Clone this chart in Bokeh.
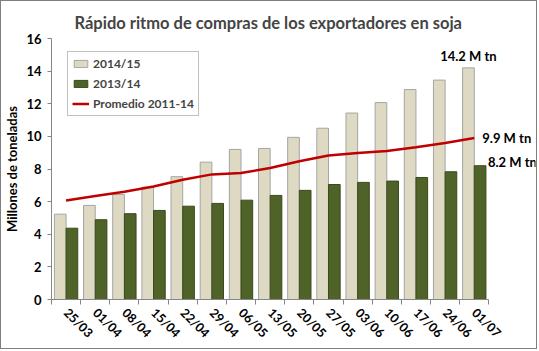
from bokeh.plotting import figure
from bokeh.models import Range1d, FixedTicker, ColumnDataSource, Legend, LegendItem
from bokeh.embed import file_html
from bokeh.resources import INLINE

fechas = ["25/03", "01/04", "08/04", "15/04", "22/04", "29/04", "06/05", "13/05",
          "20/05", "27/05", "03/06", "10/06", "17/06", "24/06", "01/07"]
campana_2014_15 = [5.23, 5.77, 6.44, 6.89, 7.53, 8.42, 9.2, 9.26, 9.94, 10.5,
                   11.43, 12.07, 12.87, 13.45, 14.2]
campana_2013_14 = [4.37, 4.89, 5.26, 5.46, 5.72, 5.89, 6.09, 6.38, 6.69, 7.05,
                   7.18, 7.26, 7.48, 7.83, 8.2]
promedio_2011_14 = [6.07, 6.34, 6.6, 6.93, 7.34, 7.67, 7.75, 8.06, 8.47, 8.83,
                    8.98, 9.1, 9.34, 9.6, 9.9]
y_ticks = [0, 2, 4, 6, 8, 10, 12, 14, 16]

FONT = "Lato"
n = len(fechas)
idx = list(range(n))
src = ColumnDataSource(dict(
    x=idx,
    x1=[i - 0.2 for i in idx],
    x2=[i + 0.2 for i in idx],
    a=campana_2014_15,
    b=campana_2013_14,
    c=promedio_2011_14,
))

W, H = 537, 349
p = figure(width=W, height=H, output_backend="svg", toolbar_location=None,
           x_range=Range1d(-0.5, 16.1), y_range=Range1d(0, 16),
           min_border_left=43, min_border_right=3, min_border_top=37,
           min_border_bottom=51)
p.styles = {"border": "1px solid #7f7f7f"}
p.outline_line_color = None
p.grid.visible = False

p.title.text = "Rápido ritmo de compras de los exportadores en soja"
p.title.text_font = FONT
p.title.text_font_size = "16.5px"
p.title.text_font_style = "bold"
p.title.align = "left"
p.title.offset = 23
p.title.standoff = 11

r1 = p.vbar(x="x1", top="a", width=0.4, source=src, fill_color="#DDD9C3",
            line_color="#A5A5A5", line_width=1)
r2 = p.vbar(x="x2", top="b", width=0.4, source=src, fill_color="#4F6228",
            line_color="#3B4A1E", line_width=1)
r3 = p.line(x="x", y="c", source=src, line_color="#C00000", line_width=2.5)

# annotations
p.text(x=[idx[-1] - 0.2], y=[campana_2014_15[-1]],
       text=[f"{campana_2014_15[-1]:.1f} M tn"], text_align="center",
       text_baseline="bottom", y_offset=-4, text_font_size="13px",
       text_font_style="bold", text_font={"value": FONT}, text_color="black")
p.text(x=[idx[-1]], y=[promedio_2011_14[-1]],
       text=[f"{promedio_2011_14[-1]:.1f} M tn"], text_align="left",
       text_baseline="middle", x_offset=8, text_font_size="13px",
       text_font_style="bold", text_font={"value": FONT}, text_color="black")
p.text(x=[idx[-1] + 0.4], y=[campana_2013_14[-1]],
       text=[f"{campana_2013_14[-1]:.1f} M tn"], text_align="left",
       text_baseline="middle", x_offset=2, y_offset=-4, text_font_size="13px",
       text_font_style="bold", text_font={"value": FONT}, text_color="black")

# x axis
xa = p.xaxis[0]
xa.ticker = FixedTicker(ticks=idx, minor_ticks=[i - 0.5 for i in range(n + 1)])
xa.major_label_overrides = {i: f for i, f in enumerate(fechas)}
xa.bounds = (-0.5, n - 0.5)
xa.major_tick_out = 0
xa.major_tick_in = 0
xa.minor_tick_out = 5
xa.minor_tick_in = 0
xa.minor_tick_line_color = "#868686"
xa.axis_line_color = "#868686"
xa.major_label_orientation = -0.785398
xa.major_label_standoff = 6
xa.major_label_text_font = FONT
xa.major_label_text_font_style = "bold"
xa.major_label_text_font_size = "12.5px"
xa.major_label_text_color = "black"

# y axis
ya = p.yaxis[0]
ya.ticker = FixedTicker(ticks=y_ticks)
ya.bounds = (0, 16)
ya.minor_tick_line_color = None
ya.major_tick_out = 4
ya.major_tick_in = 0
ya.major_tick_line_color = "#868686"
ya.axis_line_color = "#868686"
ya.major_label_standoff = 6
ya.major_label_text_font = FONT
ya.major_label_text_font_style = "bold"
ya.major_label_text_font_size = "13px"
ya.major_label_text_color = "black"
ya.axis_label = "Millones de toneladas"
ya.axis_label_text_font = FONT
ya.axis_label_text_font_style = "bold"
ya.axis_label_text_font_size = "13px"
ya.axis_label_text_color = "black"
ya.axis_label_standoff = 3

legend = Legend(items=[
    LegendItem(label="2014/15", renderers=[r1]),
    LegendItem(label="2013/14", renderers=[r2]),
    LegendItem(label="Promedio 2011-14", renderers=[r3]),
], location=(16, 183))
legend.border_line_color = "#7f7f7f"
legend.border_line_width = 1
legend.background_fill_color = "white"
legend.background_fill_alpha = 1
legend.label_text_font = FONT
legend.label_text_font_style = "bold"
legend.label_text_font_size = "12px"
legend.glyph_width = 17
legend.glyph_height = 9
legend.label_height = 14
legend.spacing = 5
legend.padding = 4
legend.margin = 0
legend.label_standoff = 4
p.add_layout(legend, "center")

open("out.html", "w").write(file_html(p, INLINE))
